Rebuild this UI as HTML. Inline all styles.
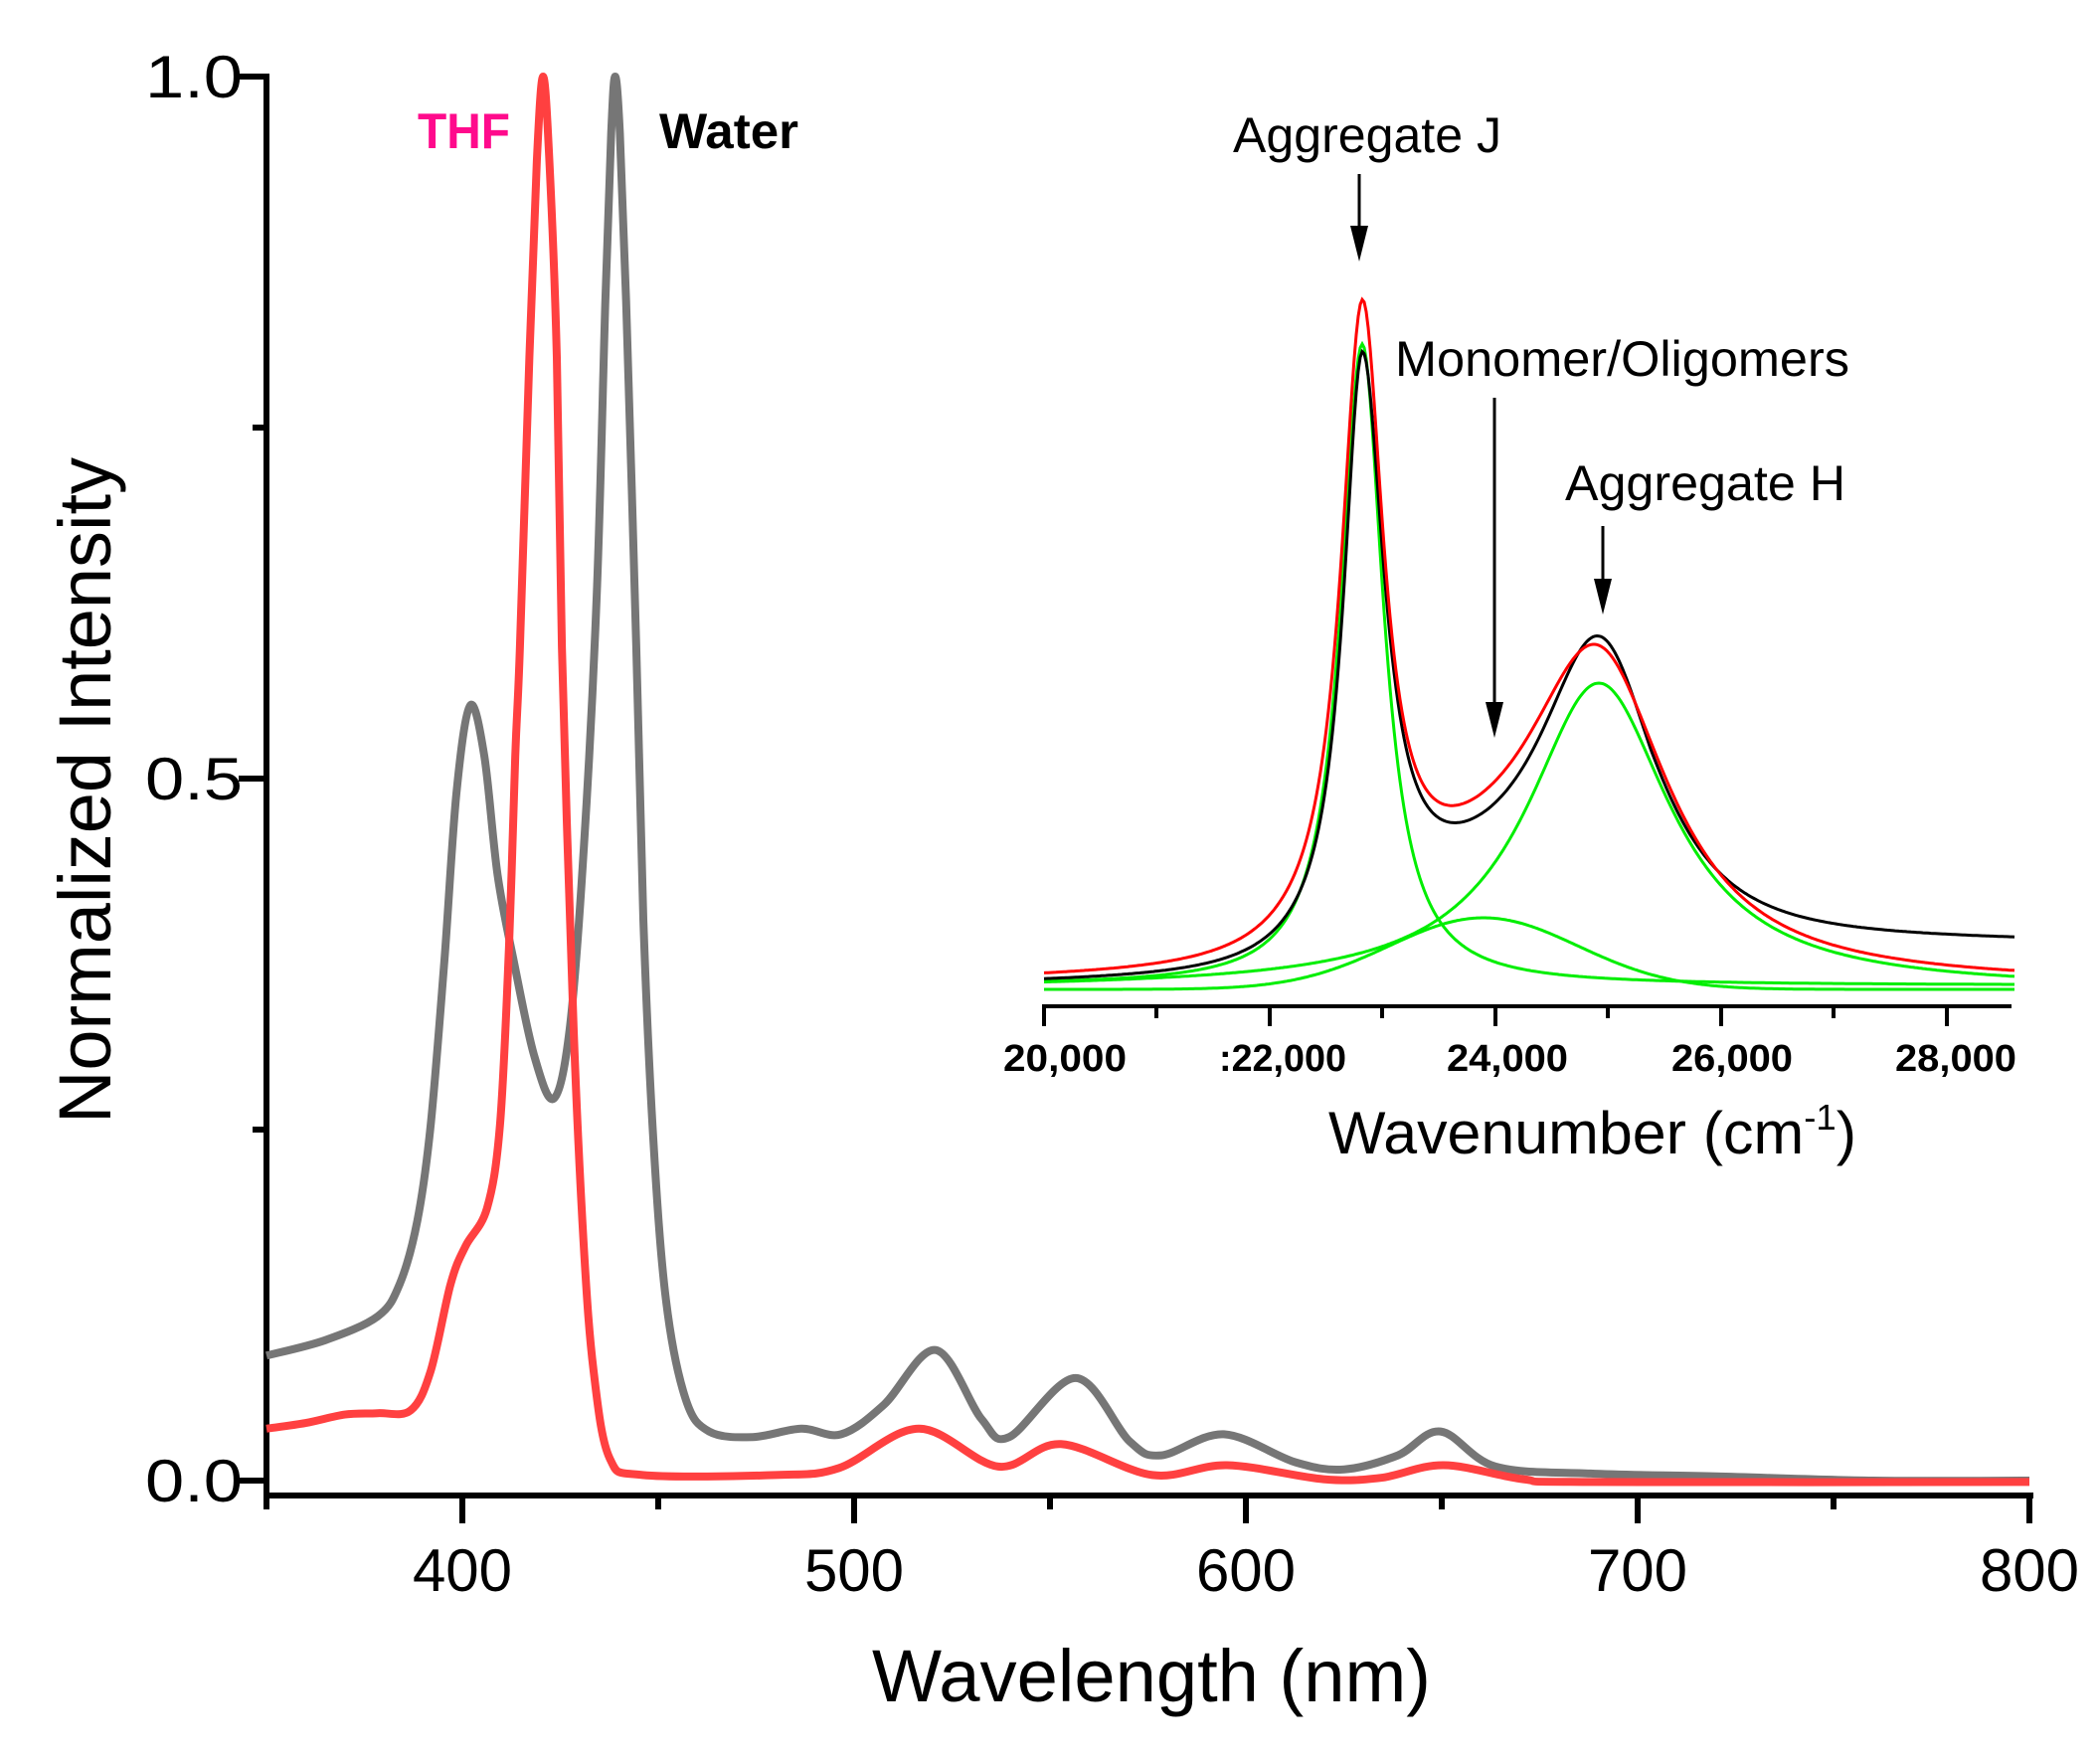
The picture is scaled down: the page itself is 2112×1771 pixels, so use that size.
<!DOCTYPE html>
<html><head><meta charset="utf-8">
<style>
html,body{margin:0;padding:0;background:#fff;}
svg{display:block;}
text{font-family:"Liberation Sans",Arial,sans-serif;}
</style></head>
<body>
<svg id="s" width="2112" height="1771" viewBox="0 0 2112 1771" xmlns="http://www.w3.org/2000/svg">
<rect width="2112" height="1771" fill="#fff"/>
<g stroke="#000" stroke-width="6" fill="none">
<line x1="268" y1="74" x2="268" y2="1518"/>
<line x1="265" y1="1504" x2="2045" y2="1504"/>
<line x1="240" y1="77" x2="268" y2="77"/>
<line x1="254" y1="430" x2="268" y2="430"/>
<line x1="240" y1="783" x2="268" y2="783"/>
<line x1="254" y1="1136" x2="268" y2="1136"/>
<line x1="240" y1="1489" x2="268" y2="1489"/>
<line x1="465" y1="1504" x2="465" y2="1532"/>
<line x1="859" y1="1504" x2="859" y2="1532"/>
<line x1="1253" y1="1504" x2="1253" y2="1532"/>
<line x1="1647" y1="1504" x2="1647" y2="1532"/>
<line x1="2041" y1="1504" x2="2041" y2="1532"/>
<line x1="268" y1="1504" x2="268" y2="1518"/>
<line x1="662" y1="1504" x2="662" y2="1518"/>
<line x1="1056" y1="1504" x2="1056" y2="1518"/>
<line x1="1450" y1="1504" x2="1450" y2="1518"/>
<line x1="1844" y1="1504" x2="1844" y2="1518"/>
</g>
<g font-size="60" fill="#000">
<text x="244" y="98" text-anchor="end" textLength="98" lengthAdjust="spacingAndGlyphs">1.0</text>
<text x="244" y="804" text-anchor="end" textLength="98" lengthAdjust="spacingAndGlyphs">0.5</text>
<text x="244" y="1510" text-anchor="end" textLength="98" lengthAdjust="spacingAndGlyphs">0.0</text>
<text x="465" y="1600" text-anchor="middle">400</text>
<text x="859" y="1600" text-anchor="middle">500</text>
<text x="1253" y="1600" text-anchor="middle">600</text>
<text x="1647" y="1600" text-anchor="middle">700</text>
<text x="2041" y="1600" text-anchor="middle">800</text>
</g>
<text x="1158" y="1711" font-size="74" text-anchor="middle" textLength="562" lengthAdjust="spacingAndGlyphs">Wavelength (nm)</text>
<text transform="translate(111,795) rotate(-90)" font-size="74" text-anchor="middle" textLength="670" lengthAdjust="spacingAndGlyphs">Normalized Intensity</text>
<text x="420" y="149" font-size="50" font-weight="bold" fill="#ff0a8c" textLength="93" lengthAdjust="spacingAndGlyphs">THF</text>
<text x="663" y="149" font-size="50" font-weight="bold" fill="#000" textLength="140" lengthAdjust="spacingAndGlyphs">Water</text>

<path id="gray" fill="none" stroke="#767676" stroke-width="8" stroke-linejoin="round"/>
<path id="red" fill="none" stroke="#ff4040" stroke-width="8" stroke-linejoin="round"/>

<g stroke="#000" stroke-width="4" fill="none">
<line x1="1048" y1="1012" x2="2023" y2="1012"/>
<line x1="1050" y1="1012" x2="1050" y2="1032"/>
<line x1="1277" y1="1012" x2="1277" y2="1032"/>
<line x1="1504" y1="1012" x2="1504" y2="1032"/>
<line x1="1731" y1="1012" x2="1731" y2="1032"/>
<line x1="1958" y1="1012" x2="1958" y2="1032"/>
<line x1="1163" y1="1012" x2="1163" y2="1024"/>
<line x1="1390" y1="1012" x2="1390" y2="1024"/>
<line x1="1617" y1="1012" x2="1617" y2="1024"/>
<line x1="1844" y1="1012" x2="1844" y2="1024"/>
</g>
<g font-size="38" font-weight="bold" fill="#000" text-anchor="middle">
<text x="1071" y="1077" textLength="124" lengthAdjust="spacingAndGlyphs">20,000</text>
<text x="1290" y="1077" textLength="128" lengthAdjust="spacingAndGlyphs">:22,000</text>
<text x="1516" y="1077" textLength="122" lengthAdjust="spacingAndGlyphs">24,000</text>
<text x="1742" y="1077" textLength="122" lengthAdjust="spacingAndGlyphs">26,000</text>
<text x="1967" y="1077" textLength="122" lengthAdjust="spacingAndGlyphs">28,000</text>
</g>
<text x="1336" y="1160" font-size="60" textLength="531" lengthAdjust="spacingAndGlyphs">Wavenumber (cm<tspan dy="-24" font-size="36">-1</tspan><tspan dy="24">)</tspan></text>

<g font-size="50" fill="#000">
<text x="1240" y="153" textLength="270" lengthAdjust="spacingAndGlyphs">Aggregate J</text>
<text x="1403" y="378" textLength="457" lengthAdjust="spacingAndGlyphs">Monomer/Oligomers</text>
<text x="1574" y="503" textLength="282" lengthAdjust="spacingAndGlyphs">Aggregate H</text>
</g>
<g stroke="#000" stroke-width="3">
<line x1="1367" y1="175" x2="1367" y2="230"/>
<line x1="1503" y1="400" x2="1503" y2="710"/>
<line x1="1612" y1="529" x2="1612" y2="585"/>
</g>
<g fill="#000">
<polygon points="1358,227 1376,227 1367,263"/>
<polygon points="1494,706 1512,706 1503,742"/>
<polygon points="1603,582 1621,582 1612,618"/>
</g>
<g id="inset" fill="none" stroke-width="3"></g>
</svg>
<script>
function X(nm){return 268+(nm-350)*3.94;}
function Y(v){return 1489-v*1412;}
function cr(pts){
  var d="M"+pts[0][0].toFixed(1)+","+pts[0][1].toFixed(1);
  for(var i=0;i<pts.length-1;i++){
    var p0=pts[i>0?i-1:0],p1=pts[i],p2=pts[i+1],p3=pts[i+2<pts.length?i+2:i+1];
    var c1x=p1[0]+(p2[0]-p0[0])/6,c1y=p1[1]+(p2[1]-p0[1])/6;
    var c2x=p2[0]-(p3[0]-p1[0])/6,c2y=p2[1]-(p3[1]-p1[1])/6;
    d+=" C"+c1x.toFixed(1)+","+c1y.toFixed(1)+" "+c2x.toFixed(1)+","+c2y.toFixed(1)+" "+p2[0].toFixed(1)+","+p2[1].toFixed(1);
  }
  return d;
}
var gray=[[350,0.089],[365,0.1],[378.4,0.117],[384,0.14],[388.5,0.185],[391.9,0.253],[395.4,0.37],[398.5,0.49],[402,0.552],[405.6,0.516],[409,0.431],[413.2,0.369],[418.3,0.303],[423.3,0.272],[427.4,0.322],[431,0.45],[434.3,0.63],[436.5,0.84],[438,0.96],[439,1.0],[440.2,0.96],[441.8,0.84],[444.4,0.594],[446.2,0.4],[448.7,0.245],[452,0.128],[457,0.058],[463,0.035],[474.1,0.031],[486.5,0.037],[496.7,0.033],[507.6,0.054],[520.8,0.093],[532.5,0.044],[539.6,0.031],[556.6,0.073],[570.3,0.028],[578.4,0.018],[594.4,0.033],[612.7,0.013],[625.1,0.008],[638.8,0.018],[649.7,0.035],[663.7,0.01],[688,0.005],[720,0.003],[760,0.0],[800,0.0]];
var red=[[350,0.037],[360,0.041],[370,0.047],[378.4,0.048],[386.8,0.05],[391.9,0.078],[397,0.14],[400.8,0.167],[406.3,0.194],[409.6,0.253],[411.9,0.38],[413.5,0.516],[414.7,0.594],[417.1,0.8],[419,0.94],[420.6,1.0],[422.2,0.94],[424.1,0.8],[425.4,0.594],[428.4,0.322],[431,0.167],[433.5,0.078],[437.6,0.016],[446,0.004],[480,0.004],[496.2,0.009],[516.5,0.037],[536.8,0.01],[552.8,0.026],[576.1,0.004],[595.2,0.011],[619.8,0.001],[634.5,0.002],[650.5,0.011],[670.8,0.001],[688,-0.001],[800,-0.001]];
function conv(a){return a.map(function(p){return [X(p[0]),Y(p[1])];});}
document.getElementById("gray").setAttribute("d",cr(conv(gray)));
document.getElementById("red").setAttribute("d",cr(conv(red)));

var B=993;
function L(x,c,h,g){var t=(x-c)/g;return h/(1+t*t);}
function G(x,c,h,s){var t=(x-c)/s;return h*Math.exp(-t*t/2);}
function gJ(x){return L(x,1370,645,26);}
function gH(x){return L(x,1608,308,88);}
function gM(x){return G(x,1492,72,95);}
function redf(x){return L(x,1370,628,26)+gH(x)+0.75*gM(x);}
function blk(x){
  var j=L(x,1370,586,x<1370?23:27);
  var h=L(x,1610,320,76);
  var m=G(x,1492,55,95);
  var t=x>1660?42*(1-Math.exp(-(x-1660)/130)):0;
  return j+h+m+t;
}
function path(f,off){
  var pts=[];
  for(var x=1050;x<=2026;x+=2){pts.push([x,B+(off||0)-f(x)]);}
  return "M"+pts.map(function(p){return p[0]+","+p[1].toFixed(1);}).join(" L");
}
var g=document.getElementById("inset");
function add(d,c){var p=document.createElementNS("http://www.w3.org/2000/svg","path");p.setAttribute("d",d);p.setAttribute("stroke",c);g.appendChild(p);}
add(path(gM,2),"#00ee00");
add(path(gH,2),"#00ee00");
add(path(gJ,-2),"#00ee00");
add(path(blk,0),"#000");
add(path(redf,-3),"#ff0000");
</script>
</body></html>
